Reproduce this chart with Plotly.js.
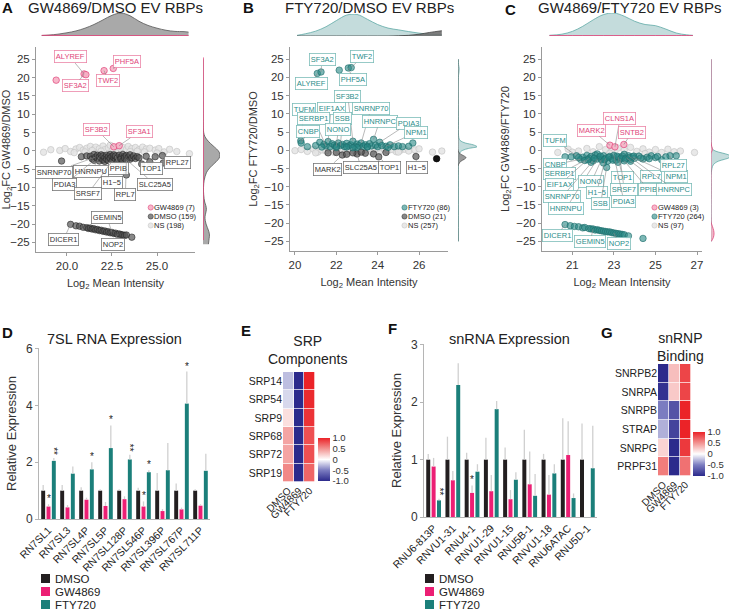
<!DOCTYPE html>
<html>
<head>
<meta charset="utf-8">
<script src="https://cdn.plot.ly/plotly-3.0.1.min.js"></script>
<style>body{margin:0;background:#fff}#chart{width:729px;height:610px}</style>
</head>
<body>
<div id="chart"></div>
<script>
var W = 729, H = 610;

// ---------- panel A : GW4869/DMSO ----------
var aGwX = [19.4, 20.95, 21.05, 22.06, 22.57, 22.6, 22.9];
var aGwY = [19.3, 21.0, 20.8, 21.9, 22.5, 1.1, 1.4];
var aDmsoX = [19.7, 20.8, 21.1, 21.3, 21.4, 21.5, 21.5, 21.6, 21.7, 21.7, 21.8, 21.8, 21.9, 21.9, 22.0, 22.0, 22.1, 22.1, 22.2, 22.2, 22.3, 22.3, 22.4, 22.4, 22.5, 22.5, 22.6, 22.6, 22.7, 22.7, 22.8, 22.8, 22.9, 22.9, 23.0, 23.0, 23.1, 23.1, 23.2, 23.2, 23.3, 23.3, 23.4, 23.5, 23.5, 23.6, 23.7, 23.8, 23.9, 24.0, 24.15, 24.4, 24.6, 24.9, 25.3, 25.35, 23.3];
var aDmsoY = [-2.8, -1.6, -1.4, -1.5, -2.2, -1.0, -2.6, -1.7, -2.1, -1.2, -2.8, -1.6, -2.0, -1.1, -2.5, -1.4, -1.9, -2.9, -1.2, -2.3, -1.6, -2.7, -1.0, -2.0, -1.5, -2.9, -1.8, -1.1, -2.4, -1.4, -2.0, -3.1, -1.2, -2.5, -1.7, -2.2, -1.0, -2.8, -1.5, -2.0, -2.6, -1.3, -1.8, -2.3, -1.1, -1.9, -1.4, -2.1, -1.6, -1.9, -3.6, -1.5, -3.0, -1.6, -1.3, -3.3, -6.6];
var aDmsoLowX = [20.2, 20.5, 20.7, 20.9, 21.1, 21.2, 21.3, 21.4, 21.5, 21.6, 21.7, 21.8, 21.9, 22.0, 22.1, 22.2, 22.3, 22.4, 22.5, 22.6, 22.7, 22.8, 22.9, 23.0, 23.1, 23.2, 23.3, 23.6];
var aDmsoLowY = [-20.1, -20.5, -20.6, -20.9, -21.0, -21.2, -21.1, -21.4, -21.3, -21.6, -21.5, -21.8, -21.7, -22.0, -21.9, -22.2, -22.1, -22.4, -22.3, -22.6, -22.5, -22.8, -22.7, -22.9, -23.0, -23.1, -23.0, -23.6];
var aNsX = [18.7, 19.1, 19.6, 19.9, 20.2, 20.5, 20.7, 20.9, 21.1, 21.3, 21.5, 21.6, 21.8, 22.0, 22.1, 22.3, 22.4, 22.6, 22.8, 22.9, 23.1, 23.3, 23.4, 23.6, 23.8, 24.0, 24.2, 24.4, 24.6, 24.9, 25.1, 25.4, 25.7, 26.1, 26.8, 20.4, 21.0, 21.9, 22.7, 23.5, 24.3, 25.0, 21.4, 22.5, 23.9];
var aNsY = [-0.4, 0.3, 0.1, 0.6, -0.2, 0.5, 0.9, 0.2, 0.7, 1.2, 0.4, 1.0, 0.6, 1.3, 0.3, 0.8, 1.5, 0.5, 1.1, 0.2, 0.9, 0.4, 1.2, 0.6, 0.9, 0.3, 1.0, 0.5, 0.7, 0.2, 0.6, -0.3, 0.4, -0.2, -0.8, -0.5, -0.3, -0.1, -0.4, -0.2, -0.3, -0.6, 0.1, 0.0, -0.1];
var aTopX = [18.6, 19.0, 19.5, 20.0, 20.5, 21.0, 21.5, 22.0, 22.5, 23.0, 23.5, 24.0, 24.5, 25.0, 25.5, 26.0, 26.5, 26.75];
var aTopGrey = [0.02, 0.04, 0.08, 0.14, 0.22, 0.34, 0.5, 0.7, 0.9, 1.0, 0.88, 0.64, 0.46, 0.34, 0.25, 0.2, 0.19, 0.17];
var aTopPink = [0.03, 0.03, 0.03, 0.02, 0.02, 0.02, 0.02, 0.02, 0.02, 0.02, 0.02, 0.02, 0.02, 0.02, 0.02, 0.02, 0.02, 0.02];
var aRightY = [-25.5, -24, -23, -22, -21, -20, -19, -18, -17, -16, -15, -14, -12, -10, -8, -6, -5, -4, -3, -2, -1, 0, 1, 2, 3, 4, 5, 6, 8, 25];
var aRightGrey = [0.32, 0.36, 0.38, 0.34, 0.26, 0.18, 0.13, 0.12, 0.16, 0.2, 0.17, 0.1, 0.04, 0.03, 0.07, 0.2, 0.34, 0.54, 0.77, 0.95, 1.0, 0.9, 0.68, 0.44, 0.24, 0.1, 0.04, 0.02, 0.01, 0.0];
var aRightPinkY = [-24.4, 25.5];
var aRightPink = [0.02, 0.02];

// ---------- panel B : FTY720/DMSO ----------
var bFtyX = [21.08, 21.26, 22.14, 22.58, 22.72, 20.28, 20.3, 20.6, 21.0, 21.2, 21.4, 21.5, 21.6, 21.7, 21.8, 21.9, 22.0, 22.1, 22.2, 22.3, 22.4, 22.5, 22.6, 22.7, 22.8, 22.9, 23.0, 23.1, 23.2, 23.3, 23.4, 23.5, 23.6, 23.7, 23.8, 23.9, 24.0, 24.1, 24.2, 24.4, 24.6, 24.8, 25.0, 25.2, 25.5, 25.7, 22.0, 22.5, 23.0, 23.5, 21.3, 24.5, 22.8];
var bFtyY = [21.1, 21.5, 22.0, 22.6, 22.7, 2.6, 2.0, 1.0, 1.3, 2.2, 1.6, 1.2, 2.4, 1.0, 1.8, 1.4, 1.1, 2.0, 1.3, 1.6, 1.0, 1.9, 1.2, 1.5, 2.5, 1.0, 1.7, 1.3, 2.0, 1.1, 1.5, 1.0, 1.8, 1.2, 3.0, 1.4, 1.0, 2.2, 1.3, 1.1, 1.5, 1.0, 1.2, 1.0, 1.1, 2.0, 0.8, 0.9, 0.8, 0.9, 0.9, 0.8, 0.7];
var bDmsoX = [22.29, 22.5, 23.0, 23.8, 24.05, 25.85, 22.0, 22.8, 23.4, 24.4, 21.6, 23.2];
var bDmsoY = [-1.3, -1.1, -1.0, -1.0, -1.8, -1.7, -0.6, -0.7, -0.8, -0.6, -0.7, -0.5];
var bDarkX = [26.85];
var bDarkY = [-2.3];
var bNsX = [20.0, 20.3, 20.6, 20.9, 21.1, 21.3, 21.5, 21.7, 21.9, 22.1, 22.3, 22.5, 22.7, 22.9, 23.1, 23.3, 23.5, 23.7, 23.9, 24.1, 24.3, 24.5, 24.7, 24.9, 25.1, 25.3, 25.5, 25.8, 26.0, 26.65, 27.1, 21.0, 22.0, 23.0, 24.0, 25.0, 22.4, 23.6];
var bNsY = [-0.1, 0.2, -0.3, 0.3, -0.5, 0.1, -0.2, 0.4, -0.6, 0.0, 0.3, -0.4, 0.1, -0.3, 0.5, -0.1, 0.2, -0.5, 0.3, -0.2, 0.4, -0.1, 0.2, -0.4, 0.0, 0.3, -0.2, 0.1, 0.4, -0.5, -0.2, -0.7, 0.5, -0.6, 0.6, -0.5, -0.8, 0.6];
var bTopX = [20.1, 20.5, 21.0, 21.5, 22.0, 22.5, 23.0, 23.5, 24.0, 24.5, 25.0, 25.5, 26.0, 26.5, 27.1];
var bTopTeal = [0.03, 0.1, 0.22, 0.42, 0.7, 0.95, 0.98, 0.76, 0.52, 0.36, 0.28, 0.2, 0.13, 0.08, 0.06];
var bTopGrey = [0, 0, 0, 0, 0, 0, 0, 0, 0, 0, 0.01, 0.03, 0.08, 0.16, 0.24];
var bRightY = [-25, -6, -4, -3, -2.5, -2, -1.5, -1, -0.5, 0, 0.5, 1, 1.5, 2, 2.5, 3, 4, 8, 20, 21.5, 22.5, 23.5, 25];
var bRightTeal = [0.02, 0.02, 0.02, 0.03, 0.03, 0.04, 0.05, 0.07, 0.12, 0.25, 0.55, 1.0, 0.8, 0.38, 0.16, 0.07, 0.03, 0.02, 0.02, 0.05, 0.06, 0.03, 0.02];
var bRightGrey = [0, 0, 0.02, 0.15, 0.32, 0.42, 0.3, 0.12, 0.04, 0.01, 0, 0, 0, 0, 0, 0, 0, 0, 0, 0, 0, 0, 0];

// ---------- panel C : GW4869/FTY720 ----------
var cGwX = [22.81, 23.05, 23.48];
var cGwY = [1.4, 0.95, 1.6];
var cFtyX = [20.65, 20.95, 21.2, 21.4, 21.5, 21.6, 21.7, 21.8, 21.9, 22.0, 22.1, 22.2, 22.3, 22.4, 22.5, 22.6, 22.7, 22.8, 22.9, 23.0, 23.1, 23.2, 23.3, 23.4, 23.5, 23.6, 23.7, 23.8, 23.9, 24.0, 24.2, 24.4, 24.6, 24.8, 25.0, 25.3, 25.7, 26.0, 22.65, 21.9, 22.5, 23.2, 23.8, 22.2, 23.5, 21.3, 21.75, 22.05, 22.35, 22.55, 22.75, 22.95, 23.15, 23.35, 23.55, 23.75, 23.95, 24.3, 24.7, 25.1, 25.5];
var cFtyY = [-1.8, -1.8, -1.5, -2.5, -1.9, -2.8, -1.4, -2.2, -1.7, -2.9, -1.3, -2.4, -1.9, -2.6, -1.5, -2.2, -3.0, -1.7, -2.3, -1.4, -2.7, -1.9, -2.4, -1.6, -2.9, -2.1, -1.5, -2.5, -1.8, -2.2, -1.6, -2.4, -1.9, -1.5, -2.0, -2.6, -1.5, -1.5, -4.7, -3.3, -3.5, -3.3, -3.0, -1.0, -1.1, -2.0, -2.6, -2.2, -1.6, -2.5, -1.9, -2.7, -1.6, -2.1, -2.4, -2.0, -1.6, -2.1, -2.3, -1.7, -1.8];
var cFtyLowX = [20.65, 20.9, 21.1, 21.3, 21.5, 21.6, 21.8, 21.9, 22.0, 22.1, 22.2, 22.3, 22.4, 22.5, 22.6, 22.7, 22.8, 22.9, 23.0, 23.1, 23.2, 23.3, 23.4, 23.5, 23.7, 24.4];
var cFtyLowY = [-20.4, -20.7, -20.9, -21.0, -21.3, -21.2, -21.5, -21.6, -21.6, -21.9, -21.8, -22.0, -22.1, -22.2, -22.3, -22.4, -22.4, -22.6, -22.7, -22.8, -22.9, -23.0, -23.1, -23.2, -23.5, -24.2];
var cNsX = [20.3, 20.8, 21.3, 21.7, 22.0, 22.3, 22.6, 22.9, 23.2, 23.5, 23.8, 24.1, 24.4, 24.7, 25.0, 25.3, 25.6, 25.9, 26.2, 26.88, 21.0, 22.8, 24.5];
var cNsY = [-0.6, 0.3, -0.2, 0.5, -0.4, 1.0, 0.2, -0.3, 0.6, 0.0, 0.8, -0.3, 0.4, -0.5, 0.2, -0.6, 0.3, -0.4, -0.2, -0.6, -0.5, -0.8, -0.9];
var cTopX = [19.9, 20.5, 21.0, 21.5, 22.0, 22.5, 23.0, 23.5, 24.0, 24.5, 25.0, 25.5, 26.0, 26.5, 26.8];
var cTopTeal = [0.03, 0.08, 0.2, 0.42, 0.7, 0.93, 1.0, 0.86, 0.64, 0.5, 0.45, 0.3, 0.13, 0.05, 0.03];
var cTopPink = [0.02, 0.02, 0.02, 0.02, 0.02, 0.02, 0.02, 0.02, 0.02, 0.02, 0.02, 0.02, 0.02, 0.02, 0.02];
var cRightY = [-25, -24, -23, -22, -21, -20, -19, -10, -6, -4, -3, -2.5, -2, -1.5, -1, -0.5, 0, 0.5, 1, 2, 4, 10, 25];
var cRightTeal = [0.02, 0.03, 0.04, 0.04, 0.03, 0.02, 0.01, 0.01, 0.02, 0.12, 0.38, 0.7, 0.96, 1.0, 0.78, 0.4, 0.15, 0.06, 0.03, 0.01, 0.01, 0.01, 0.01];
var cRightPink = [0.02, 0.12, 0.16, 0.14, 0.08, 0.02, 0.0, 0, 0, 0, 0, 0, 0, 0, 0, 0.02, 0.07, 0.07, 0.04, 0.01, 0, 0, 0];

// ---------- panel D : 7SL RNA ----------
var dCats = ['RN7SL1', 'RN7SL3', 'RN7SL4P', 'RN7SL5P', 'RN7SL128P', 'RN7SL546P', 'RN7SL396P', 'RN7SL767P', 'RN7SL711P'];
var dDmso = [1, 1, 1, 1, 1, 1, 1, 1, 1];
var dGw = [0.44, 0.41, 0.68, 0.46, 0.70, 0.44, 0.28, 0.34, 0.47];
var dFty = [2.05, 1.60, 1.75, 2.50, 2.10, 1.65, 1.72, 4.07, 1.70];
var dDmsoErr = [0.2, 0.2, 0.12, 0.05, 0.05, 0.1, 0.62, 0.25, 0.05];
var dGwErr = [0.08, 0.08, 0.07, 0.14, 0.1, 0.18, 0.07, 0.06, 0.05];
var dFtyErr = [0.1, 0.25, 0.25, 0.8, 0.17, 0.07, 0.96, 1.13, 0.6];

// ---------- panel E : SRP heatmap ----------
var eGenes = ['SRP14', 'SRP54', 'SRP9', 'SRP68', 'SRP72', 'SRP19'];
var eDmso = [-0.25, -0.15, 0.15, 0.42, 0.42, 0.55];
var eGw = [-1.0, -1.0, -1.0, -1.0, -1.0, -1.0];
var eFty = [1.0, 0.97, 0.93, 0.8, 0.8, 0.7];

// ---------- panel F : snRNA ----------
var fCats = ['RNU6-813P', 'RNVU1-31', 'RNU4-1', 'RNVU1-29', 'RNVU1-15', 'RNU5B-1', 'RNVU1-18', 'RNU6ATAC', 'RNU5D-1'];
var fDmso = [1, 1, 1, 1, 1, 1, 1, 1, 1];
var fGw = [0.88, 0.64, 0.42, 0.45, 0.31, 0.57, 0.39, 1.08, null];
var fFty = [0.29, 2.30, 0.79, 1.88, 0.65, 0.37, 0.76, 0.33, 0.85];
var fDmsoErr = [0.1, 0.4, 0.12, 0.38, 0.21, 0.52, 0.1, 0.72, 0.63];
var fGwErr = [0.15, 0.16, 0.13, 0.28, 0.16, 0.57, 0.34, 0.59, null];
var fFtyErr = [0.03, 0.38, 0.13, 0.14, 0.13, 0.38, 0.16, 0.08, 0.74];

// ---------- panel G : snRNP heatmap ----------
var gGenes = ['SNRPB2', 'SNRPA', 'SNRPB', 'STRAP', 'SNRPG', 'PRPF31'];
var gDmso = [-1.0, -0.95, -0.5, -0.3, 0.2, 0.6];
var gGw = [0.3, 0.25, -0.75, -0.85, -1.0, -1.0];
var gFty = [0.85, 0.85, 1.0, 1.0, 0.9, 0.65];

var groups = ['DMSO', 'GW4869', 'FTY720'];

// ---------- styling ----------
var PINK = '#e0457b', TEAL = '#2a8d8a';
var BAR_COLS = ['#231f20', '#ec1f74', '#1b7f7a'];
var sNs = {fill: 'rgba(228,228,228,0.85)', edge: 'rgba(195,195,195,0.9)'};
var sDmso = {fill: 'rgba(85,85,85,0.7)', edge: 'rgba(35,35,35,0.8)'};
var sGw = {fill: 'rgba(246,175,196,0.9)', edge: PINK};
var sFty = {fill: 'rgba(38,135,132,0.6)', edge: 'rgba(30,110,108,0.9)'};
var heatScale = [[0, '#2c2a8c'], [0.25, '#7b7cc0'], [0.5, '#ffffff'], [0.75, '#f29391'], [1, '#eb2328']];

function axId(n) { return n === 1 ? '' : String(n); }

var data = [];
var annotations = [];
var shapes = [];
var layout = {
  width: W, height: H,
  margin: {l: 0, r: 0, t: 0, b: 0},
  paper_bgcolor: '#ffffff', plot_bgcolor: 'rgba(0,0,0,0)',
  font: {family: 'Liberation Sans, Arial, sans-serif', color: '#222'},
  barmode: 'group', bargap: 0.16, bargroupgap: 0.26,
  showlegend: false
};

function mainAxes(n, x0, x1, y0, y1, xr, yr, xt, xfmt, ytitle) {
  var k = axId(n);
  var line = {showline: true, linecolor: '#9a9a9a', linewidth: 1, ticks: 'outside', ticklen: 3,
    tickcolor: '#9a9a9a', showgrid: false, zeroline: false, fixedrange: true};
  layout['xaxis' + k] = Object.assign({domain: [x0 / W, x1 / W], range: xr, anchor: 'y' + k,
    tickvals: xt, tickformat: xfmt, tickfont: {size: 11.5, color: '#333'},
    title: {text: 'Log<sub>2</sub> Mean Intensity', font: {size: 11, color: '#333'}, standoff: 8}}, line);
  layout['yaxis' + k] = Object.assign({domain: [1 - y1 / H, 1 - y0 / H], range: yr, anchor: 'x' + k,
    tickvals: [-25, -20, -15, -10, -5, 0, 5, 10, 15, 20, 25], tickfont: {size: 11.5, color: '#333'},
    title: {text: ytitle, font: {size: 11, color: '#333'}, standoff: 4}}, line);
}

function hiddenAxes(n, x0, x1, y0, y1, xr, yr) {
  var k = axId(n);
  layout['xaxis' + k] = {domain: [x0 / W, x1 / W], range: xr, anchor: 'y' + k, visible: false, fixedrange: true};
  layout['yaxis' + k] = {domain: [1 - y1 / H, 1 - y0 / H], range: yr, anchor: 'x' + k, visible: false, fixedrange: true};
}

function dots(n, xs, ys, st) {
  return {type: 'scatter', mode: 'markers', x: xs, y: ys, xaxis: 'x' + axId(n), yaxis: 'y' + axId(n),
    marker: {size: 6.5, color: st.fill, line: {color: st.edge, width: 0.7}}, hoverinfo: 'skip'};
}

function topDens(n, xs, ys, fill, edge) {
  return {type: 'scatter', mode: 'lines', x: xs, y: ys, fill: 'tozeroy', fillcolor: fill,
    line: {color: edge, width: 0.8, shape: 'spline'}, xaxis: 'x' + axId(n), yaxis: 'y' + axId(n),
    hoverinfo: 'skip'};
}

function sideDens(n, ys, xs, fill, edge) {
  return {type: 'scatter', mode: 'lines', x: xs, y: ys, fill: 'tozerox', fillcolor: fill,
    line: {color: edge, width: 0.8, shape: 'spline'}, xaxis: 'x' + axId(n), yaxis: 'y' + axId(n),
    hoverinfo: 'skip'};
}

function label(n, text, x, y, ax, ay, kind) {
  var col = kind === 'gw' ? PINK : (kind === 'ft' ? TEAL : '#333');
  var edge = kind === 'gw' ? '#eb86a8' : (kind === 'ft' ? '#7dbdb9' : '#777');
  annotations.push({xref: 'x' + axId(n), yref: 'y' + axId(n), x: x, y: y, ax: ax, ay: ay,
    text: text, showarrow: true, arrowhead: 0, arrowwidth: 0.6, arrowcolor: '#8a8a8a',
    bordercolor: edge, borderwidth: 0.8, borderpad: 1, bgcolor: 'rgba(255,255,255,0.92)',
    font: {size: 7.5, color: col}});
}

// small hand-made keys (the reference keys are packed tighter than plotly legends allow)
function keyDot(cx, cy, st, text) {
  shapes.push({type: 'circle', xref: 'paper', yref: 'paper', x0: (cx - 2.6) / W, x1: (cx + 2.6) / W,
    y0: 1 - (cy + 2.6) / H, y1: 1 - (cy - 2.6) / H, fillcolor: st.fill, line: {color: st.edge, width: 0.6}});
  annotations.push({xref: 'paper', yref: 'paper', x: (cx + 2.5) / W, y: 1 - cy / H, xanchor: 'left',
    yanchor: 'middle', text: text, showarrow: false, borderpad: 0, font: {size: 7.5, color: '#222'}});
}
function keySquare(x0, cy, color, text) {
  shapes.push({type: 'rect', xref: 'paper', yref: 'paper', x0: x0 / W, x1: (x0 + 9) / W,
    y0: 1 - (cy + 4.5) / H, y1: 1 - (cy - 4.5) / H, fillcolor: color, line: {width: 0}});
  annotations.push({xref: 'paper', yref: 'paper', x: (x0 + 13) / W, y: 1 - cy / H, xanchor: 'left',
    yanchor: 'middle', text: text, showarrow: false, borderpad: 0, font: {size: 11.5, color: '#222'}});
}

function note(px, py, text, size, extra) {
  annotations.push(Object.assign({xref: 'paper', yref: 'paper', x: px / W, y: 1 - py / H,
    xanchor: 'center', yanchor: 'middle', text: text, showarrow: false,
    font: {size: size, color: '#222'}}, extra || {}));
}

// ----- panel A -----
mainAxes(1, 36, 195, 47, 252, [18.28, 27.11], [-27.65, 28.36], [20, 22.5, 25], '.1f', 'Log<sub>2</sub>FC GW4869/DMSO');
hiddenAxes(2, 36, 195, 13, 36, [18.28, 27.11], [0, 1]);
hiddenAxes(3, 203, 220, 47, 252, [0, 1], [-27.65, 28.36]);
data.push(topDens(2, aTopX, aTopGrey, 'rgba(160,160,160,0.9)', '#555'));
data.push(topDens(2, aTopX, aTopPink, 'rgba(224,69,123,0.5)', PINK));
data.push(sideDens(3, aRightY, aRightGrey, 'rgba(160,160,160,0.9)', '#555'));
data.push(sideDens(3, aRightPinkY, aRightPink, 'rgba(224,69,123,0.5)', PINK));
data.push(dots(1, aNsX, aNsY, sNs));
data.push(dots(1, aDmsoX.concat(aDmsoLowX), aDmsoY.concat(aDmsoLowY), sDmso));
data.push(dots(1, aGwX, aGwY, sGw));
[['ALYREF', 20.95, 21.0, -14, -17, 'gw'], ['SF3A2', 20.95, 21.0, -9, 12, 'gw'],
 ['TWF2', 22.06, 21.9, 4, 10, 'gw'], ['PHF5A', 22.57, 22.5, 14, -7, 'gw'],
 ['SF3B2', 22.6, 1.1, -17, -17, 'gw'], ['SF3A1', 22.9, 1.4, 20, -14, 'gw'],
 ['SNRNP70', 21.6, -1.7, -42, 15, 'dm'], ['HNRNPU', 21.8, -1.6, -8, 15, 'dm'],
 ['PPIB', 22.7, -1.4, 3, 13, 'dm'], ['PDIA3', 21.5, -2.6, -29, 24, 'dm'],
 ['H1\u22125', 23.3, -6.6, -14, 8, 'dm'], ['SRSF7', 22.5, -2.9, -24, 32, 'dm'],
 ['RPL7', 23.3, -2.6, -1, 34, 'dm'], ['SLC25A5', 23.2, -2.0, 30, 26, 'dm'],
 ['TOP1', 24.15, -3.6, 10, 5, 'dm'], ['RPL27', 25.35, -3.3, 14, 0, 'dm'],
 ['GEMIN5', 22.5, -22.3, -5, -15, 'dm'], ['DICER1', 20.2, -20.1, -7, 15, 'dm'],
 ['NOP2', 22.8, -22.8, -4, 10, 'dm']].forEach(function (l) { label(1, l[0], l[1], l[2], l[3], l[4], l[5]); });
keyDot(150.7, 207.5, sGw, 'GW4869 (7)');
keyDot(150.7, 216.5, sDmso, 'DMSO (159)');
keyDot(150.7, 225.5, sNs, 'NS (198)');

// ----- panel B -----
mainAxes(4, 290, 448, 47, 251, [19.76, 27.4], [-27.65, 28.36], [20, 22, 24, 26], '', 'Log<sub>2</sub>FC FTY720/DMSO');
hiddenAxes(5, 290, 448, 14, 36, [19.76, 27.4], [0, 1]);
hiddenAxes(6, 458, 477, 47, 251, [0, 1], [-27.65, 28.36]);
data.push(topDens(5, bTopX, bTopTeal, 'rgba(190,216,216,0.9)', '#5fa9a6'));
data.push(topDens(5, bTopX, bTopGrey, 'rgba(110,110,110,0.9)', '#444'));
data.push(sideDens(6, bRightY, bRightTeal, 'rgba(190,216,216,0.9)', '#5fa9a6'));
data.push(sideDens(6, bRightY, bRightGrey, 'rgba(130,130,130,0.8)', '#555'));
data.push(dots(4, bNsX, bNsY, sNs));
data.push(dots(4, bDmsoX, bDmsoY, sDmso));
data.push(dots(4, bFtyX, bFtyY, sFty));
data.push(dots(4, bDarkX, bDarkY, {fill: '#111', edge: '#000'}));
[['SF3A2', 21.26, 21.5, 1, -12, 'ft'], ['ALYREF', 21.08, 21.1, -6, 10, 'ft'],
 ['TWF2', 22.72, 22.7, 11, -11, 'ft'], ['PHF5A', 22.58, 22.6, 5, 12, 'ft'],
 ['SF3B2', 22.8, 2.5, -5, -45, 'ft'], ['TUFM', 20.28, 2.6, 3.5, -31.5, 'ft'],
 ['EIF1AX', 21.6, 2.4, 3, -33, 'ft'], ['SNRNP70', 23.2, 2.0, 10, -35, 'ft'],
 ['SERBP1', 21.5, 1.2, -12, -27, 'ft'], ['SSB', 22.2, 1.3, 2, -27, 'ft'],
 ['HNRNPC', 23.8, 3.0, 6, -18, 'ft'], ['CNBP', 20.3, 2.0, 7, -12, 'ft'],
 ['NONO', 22.0, 1.1, 2, -17, 'ft'], ['PDIA3', 24.1, 2.2, 29, -19, 'ft'],
 ['NPM1', 24.4, 1.1, 30, -14, 'ft'],
 ['MARK2', 22.29, -1.3, -15, 14, 'dm'], ['SLC25A5', 23.0, -1.0, 4, 14, 'dm'],
 ['TOP1', 24.05, -1.8, 11, 11, 'dm'], ['H1\u22125', 25.85, -1.7, 1, 11, 'dm']].forEach(function (l) { label(4, l[0], l[1], l[2], l[3], l[4], l[5]); });
keyDot(404.5, 207.5, sFty, 'FTY720 (86)');
keyDot(404.5, 216.5, sDmso, 'DMSO (21)');
keyDot(404.5, 225.5, sNs, 'NS (257)');

// ----- panel C -----
mainAxes(7, 542, 702, 47, 251, [19.54, 27.24], [-27.65, 28.36], [21, 23, 25, 27], '', 'Log<sub>2</sub>FC GW4869/FTY720');
hiddenAxes(8, 542, 702, 13, 36, [19.54, 27.24], [0, 1]);
hiddenAxes(9, 711, 729, 47, 251, [0, 0.95], [-27.65, 28.36]);
data.push(topDens(8, cTopX, cTopTeal, 'rgba(190,216,216,0.9)', '#5fa9a6'));
data.push(topDens(8, cTopX, cTopPink, 'rgba(224,69,123,0.5)', PINK));
data.push(sideDens(9, cRightY, cRightTeal, 'rgba(190,216,216,0.9)', '#5fa9a6'));
data.push(sideDens(9, cRightY, cRightPink, 'rgba(240,170,190,0.8)', PINK));
data.push(dots(7, cNsX, cNsY, sNs));
data.push(dots(7, cFtyX.concat(cFtyLowX), cFtyY.concat(cFtyLowY), sFty));
data.push(dots(7, cGwX, cGwY, sGw));
[['CLNS1A', 23.05, 0.95, 5, -28, 'gw'], ['MARK2', 22.81, 1.4, -18, -15, 'gw'],
 ['SNTB2', 23.48, 1.6, 8, -12, 'gw'],
 ['TUFM', 21.2, -1.5, -21, -15, 'ft'], ['CNBP', 21.4, -2.5, -26, 5, 'ft'],
 ['SERBP1', 21.6, -2.8, -25, 13, 'ft'], ['EIF1AX', 21.8, -2.2, -29, 26, 'ft'],
 ['SNRNP70', 22.0, -2.9, -31, 36, 'ft'], ['HNRNPU', 22.2, -2.4, -31, 49, 'ft'],
 ['NONO', 22.4, -2.6, -10, 22, 'ft'], ['H1\u22125', 22.6, -2.2, -9, 34, 'ft'],
 ['SSB', 22.65, -4.7, -6, 36, 'ft'], ['TOP1', 23.2, -1.9, 4.5, 20, 'ft'],
 ['SRSF7', 23.3, -2.4, 4, 30, 'ft'], ['PDIA3', 23.0, -1.4, 10, 46, 'ft'],
 ['RPL7', 23.6, -2.1, 25, 19, 'ft'], ['PPIB', 23.5, -2.9, 24, 28.5, 'ft'],
 ['NPM1', 23.9, -1.8, 43, 20, 'ft'], ['HNRNPC', 23.7, -1.5, 46, 34, 'ft'],
 ['RPL27', 25.7, -1.5, 3, 10, 'ft'], ['DICER1', 20.65, -20.4, -8, 11, 'ft'],
 ['GEMIN5', 22.0, -21.6, -3, 13, 'ft'], ['NOP2', 23.0, -22.7, 5, 11, 'ft']].forEach(function (l) { label(7, l[0], l[1], l[2], l[3], l[4], l[5]); });
keyDot(654.5, 207.5, sGw, 'GW4869 (3)');
keyDot(654.5, 216.5, sFty, 'FTY720 (264)');
keyDot(654.5, 225.5, sNs, 'NS (97)');

// ----- bar panels D and F -----
function barAxes(n, x0, x1, y0, y1, yr, dt) {
  var k = axId(n);
  layout['xaxis' + k] = {domain: [x0 / W, x1 / W], anchor: 'y' + k, range: [-0.5, 8.5], type: 'category',
    showline: true, linecolor: '#b5b5b5', linewidth: 1, ticks: '', tickangle: -45,
    tickfont: {size: 10.5, color: '#222'}, showgrid: false, zeroline: false, fixedrange: true};
  layout['yaxis' + k] = {domain: [1 - y1 / H, 1 - y0 / H], anchor: 'x' + k, range: yr, dtick: dt,
    showline: true, linecolor: '#b5b5b5', linewidth: 1, ticks: 'outside', ticklen: 3, tickcolor: '#b5b5b5',
    tickfont: {size: 12, color: '#333'}, showgrid: false, zeroline: false, fixedrange: true,
    title: {text: 'Relative Expression', font: {size: 13, color: '#333'}, standoff: 6}};
}
function bars(n, cats, vals, errs, gi) {
  return {type: 'bar', x: cats, y: vals, name: groups[gi],
    marker: {color: BAR_COLS[gi], line: {width: 0}},
    error_y: {type: 'data', symmetric: false, array: errs, arrayminus: errs.map(function () { return 0; }),
      color: '#d0d0d0', thickness: 1.3, width: 0},
    xaxis: 'x' + axId(n), yaxis: 'y' + axId(n), hoverinfo: 'skip'};
}
function star(n, cat, slot, yv, txt) {
  var rot = txt.length > 1;
  annotations.push({xref: 'x' + axId(n), yref: 'y' + axId(n), x: cat, y: yv, xshift: slot * 5.3,
    yshift: rot ? 1 : -2, text: txt, showarrow: false, textangle: rot ? 90 : 0,
    xanchor: 'center', yanchor: 'bottom', font: {size: 10, color: '#222'}});
}

barAxes(10, 39, 210, 348, 519, [0, 6.03], 2);
data.push(bars(10, dCats, dDmso, dDmsoErr, 0));
data.push(bars(10, dCats, dGw, dGwErr, 1));
data.push(bars(10, dCats, dFty, dFtyErr, 2));
[['RN7SL1', 0, 0.52, '*'], ['RN7SL1', 1, 2.15, '**'], ['RN7SL4P', 1, 2.0, '*'], ['RN7SL5P', 1, 3.3, '*'],
 ['RN7SL128P', 1, 2.27, '**'], ['RN7SL546P', 0, 0.62, '*'], ['RN7SL546P', 1, 1.72, '*'],
 ['RN7SL767P', 1, 5.2, '*']].forEach(function (s) { star(10, s[0], s[1], s[2], s[3]); });
groups.forEach(function (g, i) { keySquare(41, 578.5 + i * 13, BAR_COLS[i], g); });

barAxes(12, 424, 597, 344, 517, [0, 3.015], 1);
data.push(bars(12, fCats, fDmso, fDmsoErr, 0));
data.push(bars(12, fCats, fGw, fGwErr, 1));
data.push(bars(12, fCats, fFty, fFtyErr, 2));
[['RNU6-813P', 1, 0.32, '**'], ['RNU4-1', 0, 0.55, '*']].forEach(function (s) { star(12, s[0], s[1], s[2], s[3]); });
groups.forEach(function (g, i) { keySquare(425, 578.5 + i * 13, BAR_COLS[i], g); });

// ----- heatmaps E and G -----
function heat(n, genes, c1, c2, c3, x0, x1, y0, y1, cbx, cby0, cby1) {
  var k = axId(n);
  var z = genes.map(function (g, i) { return [c1[i], c2[i], c3[i]]; });
  layout['xaxis' + k] = {domain: [x0 / W, x1 / W], anchor: 'y' + k, tickangle: -45, ticks: '',
    tickmode: 'array', tickvals: groups, ticktext: groups,
    tickfont: {size: 10, color: '#222'}, showgrid: false, zeroline: false, showline: false, fixedrange: true};
  layout['yaxis' + k] = {domain: [1 - y1 / H, 1 - y0 / H], anchor: 'x' + k, autorange: 'reversed', ticks: '',
    tickmode: 'array', tickvals: genes, ticktext: genes,
    tickfont: {size: 10.5, color: '#222'}, showgrid: false, zeroline: false, showline: false, fixedrange: true};
  data.push({type: 'heatmap', z: z, x: groups, y: genes, xaxis: 'x' + k, yaxis: 'y' + k,
    colorscale: heatScale, zmin: -1, zmax: 1, xgap: 0.7, ygap: 0.7, hoverinfo: 'skip',
    colorbar: {x: cbx / W, xanchor: 'left', y: 1 - cby1 / H, yanchor: 'bottom', len: (cby1 - cby0) / H,
      lenmode: 'fraction', thickness: 12, outlinewidth: 0, ticks: '', xpad: 0, ypad: 0,
      tickvals: [1, 0.5, 0, -0.5, -1], ticktext: ['1.0', '0.5', '0', '-0.5', '-1.0'],
      tickfont: {size: 9.5, color: '#333'}}});
}
heat(11, eGenes, eDmso, eGw, eFty, 283, 315, 372, 482, 318, 438, 481);
heat(13, gGenes, gDmso, gGw, gFty, 658, 691, 364, 476, 693, 432, 476);

// ----- titles and panel letters -----
note(115, 8, 'GW4869/DMSO EV RBPs', 15);
note(369, 8, 'FTY720/DMSO EV RBPs', 15);
note(629, 8, 'GW4869/FTY720 EV RBPs', 15);
note(114, 339, '7SL RNA Expression', 14.5);
note(509, 339, 'snRNA Expression', 14.5);
note(307, 350, 'SRP<br>Components', 14);
note(680, 347, 'snRNP<br>Binding', 14);
[['A', 7, 8], ['B', 248, 8], ['C', 510, 9], ['D', 7, 332], ['E', 246, 330], ['F', 392, 328], ['G', 607, 332]].forEach(function (p) {
  note(p[1], p[2], '<b>' + p[0] + '</b>', 15, {font: {size: 15, color: '#111'}});
});

layout.annotations = annotations;
layout.shapes = shapes;

Plotly.newPlot('chart', data, layout, {displayModeBar: false, staticPlot: true});
</script>
</body>
</html>
